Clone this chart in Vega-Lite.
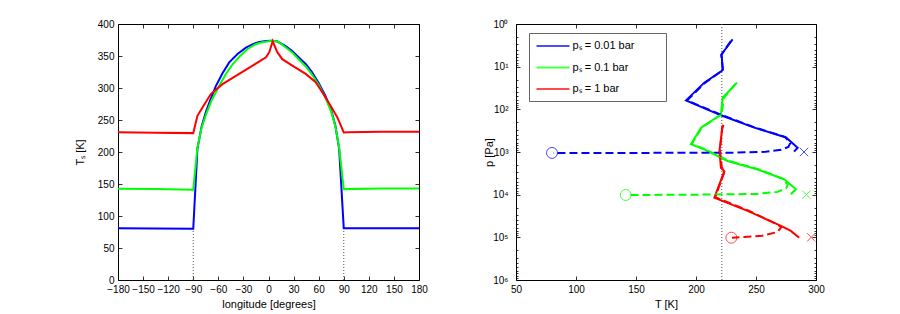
{
  "$schema": "https://vega.github.io/schema/vega-lite/v6.json",
  "background": "white",
  "padding": {"left": 73, "top": 18, "right": 5, "bottom": 3},
  "spacing": 97,
  "bounds": "flush",
  "resolve": {"scale": {"color": "independent"}, "legend": {"color": "independent"}},
  "datasets": {
    "surface": [
      {"s": "pₛ = 0.01 bar", "lon": -180, "T": 81},
      {"s": "pₛ = 0.01 bar", "lon": -135, "T": 80.5},
      {"s": "pₛ = 0.01 bar", "lon": -90, "T": 80},
      {"s": "pₛ = 0.01 bar", "lon": -85, "T": 205},
      {"s": "pₛ = 0.01 bar", "lon": -80, "T": 240},
      {"s": "pₛ = 0.01 bar", "lon": -75, "T": 262},
      {"s": "pₛ = 0.01 bar", "lon": -70, "T": 280},
      {"s": "pₛ = 0.01 bar", "lon": -63, "T": 303},
      {"s": "pₛ = 0.01 bar", "lon": -55, "T": 323},
      {"s": "pₛ = 0.01 bar", "lon": -47, "T": 340},
      {"s": "pₛ = 0.01 bar", "lon": -37, "T": 353},
      {"s": "pₛ = 0.01 bar", "lon": -27, "T": 363},
      {"s": "pₛ = 0.01 bar", "lon": -18, "T": 369},
      {"s": "pₛ = 0.01 bar", "lon": -11, "T": 372},
      {"s": "pₛ = 0.01 bar", "lon": -3, "T": 373.5},
      {"s": "pₛ = 0.01 bar", "lon": 3, "T": 374},
      {"s": "pₛ = 0.01 bar", "lon": 10, "T": 373},
      {"s": "pₛ = 0.01 bar", "lon": 20, "T": 366},
      {"s": "pₛ = 0.01 bar", "lon": 28, "T": 358},
      {"s": "pₛ = 0.01 bar", "lon": 36, "T": 348},
      {"s": "pₛ = 0.01 bar", "lon": 45, "T": 337},
      {"s": "pₛ = 0.01 bar", "lon": 52, "T": 325},
      {"s": "pₛ = 0.01 bar", "lon": 60, "T": 308},
      {"s": "pₛ = 0.01 bar", "lon": 68, "T": 288},
      {"s": "pₛ = 0.01 bar", "lon": 75, "T": 265},
      {"s": "pₛ = 0.01 bar", "lon": 80, "T": 241},
      {"s": "pₛ = 0.01 bar", "lon": 84.5, "T": 205},
      {"s": "pₛ = 0.01 bar", "lon": 90, "T": 81},
      {"s": "pₛ = 0.01 bar", "lon": 135, "T": 81},
      {"s": "pₛ = 0.01 bar", "lon": 180, "T": 81},
      {"s": "pₛ = 0.1 bar", "lon": -180, "T": 142.5},
      {"s": "pₛ = 0.1 bar", "lon": -135, "T": 142},
      {"s": "pₛ = 0.1 bar", "lon": -90, "T": 141},
      {"s": "pₛ = 0.1 bar", "lon": -85, "T": 207},
      {"s": "pₛ = 0.1 bar", "lon": -80, "T": 238},
      {"s": "pₛ = 0.1 bar", "lon": -74, "T": 261},
      {"s": "pₛ = 0.1 bar", "lon": -68, "T": 281},
      {"s": "pₛ = 0.1 bar", "lon": -59, "T": 303},
      {"s": "pₛ = 0.1 bar", "lon": -51, "T": 322},
      {"s": "pₛ = 0.1 bar", "lon": -43, "T": 337},
      {"s": "pₛ = 0.1 bar", "lon": -34, "T": 350},
      {"s": "pₛ = 0.1 bar", "lon": -25, "T": 361},
      {"s": "pₛ = 0.1 bar", "lon": -16, "T": 368},
      {"s": "pₛ = 0.1 bar", "lon": -9, "T": 371},
      {"s": "pₛ = 0.1 bar", "lon": 0, "T": 373},
      {"s": "pₛ = 0.1 bar", "lon": 5, "T": 374},
      {"s": "pₛ = 0.1 bar", "lon": 12, "T": 372},
      {"s": "pₛ = 0.1 bar", "lon": 20, "T": 364},
      {"s": "pₛ = 0.1 bar", "lon": 28, "T": 356},
      {"s": "pₛ = 0.1 bar", "lon": 36, "T": 345},
      {"s": "pₛ = 0.1 bar", "lon": 45, "T": 333},
      {"s": "pₛ = 0.1 bar", "lon": 52, "T": 321},
      {"s": "pₛ = 0.1 bar", "lon": 60, "T": 305},
      {"s": "pₛ = 0.1 bar", "lon": 68, "T": 285},
      {"s": "pₛ = 0.1 bar", "lon": 75, "T": 263},
      {"s": "pₛ = 0.1 bar", "lon": 80, "T": 240},
      {"s": "pₛ = 0.1 bar", "lon": 84.5, "T": 207},
      {"s": "pₛ = 0.1 bar", "lon": 90, "T": 142},
      {"s": "pₛ = 0.1 bar", "lon": 135, "T": 143},
      {"s": "pₛ = 0.1 bar", "lon": 180, "T": 143},
      {"s": "pₛ = 1 bar", "lon": -180, "T": 231},
      {"s": "pₛ = 1 bar", "lon": -135, "T": 230},
      {"s": "pₛ = 1 bar", "lon": -90, "T": 229.5},
      {"s": "pₛ = 1 bar", "lon": -85, "T": 256.6},
      {"s": "pₛ = 1 bar", "lon": -79, "T": 269.6},
      {"s": "pₛ = 1 bar", "lon": -69, "T": 290.5},
      {"s": "pₛ = 1 bar", "lon": -55, "T": 306},
      {"s": "pₛ = 1 bar", "lon": -39, "T": 319},
      {"s": "pₛ = 1 bar", "lon": -19, "T": 335},
      {"s": "pₛ = 1 bar", "lon": -3, "T": 348},
      {"s": "pₛ = 1 bar", "lon": 1, "T": 356},
      {"s": "pₛ = 1 bar", "lon": 5, "T": 373},
      {"s": "pₛ = 1 bar", "lon": 10.5, "T": 356},
      {"s": "pₛ = 1 bar", "lon": 16.5, "T": 345},
      {"s": "pₛ = 1 bar", "lon": 28.5, "T": 335},
      {"s": "pₛ = 1 bar", "lon": 44.5, "T": 322},
      {"s": "pₛ = 1 bar", "lon": 56.5, "T": 309},
      {"s": "pₛ = 1 bar", "lon": 64.5, "T": 293},
      {"s": "pₛ = 1 bar", "lon": 74.4, "T": 272},
      {"s": "pₛ = 1 bar", "lon": 82.4, "T": 254},
      {"s": "pₛ = 1 bar", "lon": 90, "T": 230.5},
      {"s": "pₛ = 1 bar", "lon": 95, "T": 231},
      {"s": "pₛ = 1 bar", "lon": 135, "T": 231.5},
      {"s": "pₛ = 1 bar", "lon": 180, "T": 231.5}
    ],
    "nightEdges": [
      {"lon": -90, "T0": 0, "T1": 80},
      {"lon": 90, "T0": 0, "T1": 81}
    ],
    "solid": [
      {"s": "pₛ = 0.01 bar", "i": 1, "T": 230.5, "p": 2.3},
      {"s": "pₛ = 0.01 bar", "i": 2, "T": 221.4, "p": 5.1},
      {"s": "pₛ = 0.01 bar", "i": 3, "T": 222.2, "p": 12.2},
      {"s": "pₛ = 0.01 bar", "i": 4, "T": 206.9, "p": 23.7},
      {"s": "pₛ = 0.01 bar", "i": 5, "T": 191.7, "p": 61.7},
      {"s": "pₛ = 0.01 bar", "i": 6, "T": 220.8, "p": 138},
      {"s": "pₛ = 0.01 bar", "i": 7, "T": 248.6, "p": 269},
      {"s": "pₛ = 0.01 bar", "i": 8, "T": 275.0, "p": 457},
      {"s": "pₛ = 0.01 bar", "i": 9, "T": 284.7, "p": 794},
      {"s": "pₛ = 0.01 bar", "i": 10, "T": 281.7, "p": 977},
      {"s": "pₛ = 0.1 bar", "i": 1, "T": 234.2, "p": 23.7},
      {"s": "pₛ = 0.1 bar", "i": 2, "T": 222.2, "p": 53.7},
      {"s": "pₛ = 0.1 bar", "i": 3, "T": 220.8, "p": 132},
      {"s": "pₛ = 0.1 bar", "i": 4, "T": 204.2, "p": 269},
      {"s": "pₛ = 0.1 bar", "i": 5, "T": 195.8, "p": 661},
      {"s": "pₛ = 0.1 bar", "i": 6, "T": 206.9, "p": 871},
      {"s": "pₛ = 0.1 bar", "i": 7, "T": 226.4, "p": 1622},
      {"s": "pₛ = 0.1 bar", "i": 8, "T": 251.4, "p": 2570},
      {"s": "pₛ = 0.1 bar", "i": 9, "T": 273.6, "p": 4365},
      {"s": "pₛ = 0.1 bar", "i": 10, "T": 283.3, "p": 7499},
      {"s": "pₛ = 0.1 bar", "i": 11, "T": 279.0, "p": 9772},
      {"s": "pₛ = 1 bar", "i": 1, "T": 222.8, "p": 229},
      {"s": "pₛ = 1 bar", "i": 2, "T": 221.7, "p": 300},
      {"s": "pₛ = 1 bar", "i": 3, "T": 219.5, "p": 955},
      {"s": "pₛ = 1 bar", "i": 4, "T": 220.8, "p": 2344},
      {"s": "pₛ = 1 bar", "i": 5, "T": 223.6, "p": 2818},
      {"s": "pₛ = 1 bar", "i": 6, "T": 215.3, "p": 11749},
      {"s": "pₛ = 1 bar", "i": 7, "T": 243.0, "p": 23988},
      {"s": "pₛ = 1 bar", "i": 8, "T": 270.8, "p": 53703},
      {"s": "pₛ = 1 bar", "i": 9, "T": 279.0, "p": 70795},
      {"s": "pₛ = 1 bar", "i": 10, "T": 286.0, "p": 102329}
    ],
    "dashed": [
      {"s": "pₛ = 0.01 bar", "i": 1, "T": 229, "p": 2.5},
      {"s": "pₛ = 0.01 bar", "i": 2, "T": 221, "p": 5.3},
      {"s": "pₛ = 0.01 bar", "i": 3, "T": 222.5, "p": 12},
      {"s": "pₛ = 0.01 bar", "i": 4, "T": 207.5, "p": 24},
      {"s": "pₛ = 0.01 bar", "i": 5, "T": 192.5, "p": 62},
      {"s": "pₛ = 0.01 bar", "i": 6, "T": 221.5, "p": 136},
      {"s": "pₛ = 0.01 bar", "i": 7, "T": 249, "p": 266},
      {"s": "pₛ = 0.01 bar", "i": 8, "T": 274, "p": 440},
      {"s": "pₛ = 0.01 bar", "i": 9, "T": 278.5, "p": 620},
      {"s": "pₛ = 0.01 bar", "i": 10, "T": 277, "p": 760},
      {"s": "pₛ = 0.01 bar", "i": 11, "T": 271, "p": 890},
      {"s": "pₛ = 0.01 bar", "i": 12, "T": 258, "p": 990},
      {"s": "pₛ = 0.01 bar", "i": 13, "T": 230, "p": 1040},
      {"s": "pₛ = 0.01 bar", "i": 14, "T": 150, "p": 1050},
      {"s": "pₛ = 0.01 bar", "i": 15, "T": 81, "p": 1050},
      {"s": "pₛ = 0.1 bar", "i": 1, "T": 233, "p": 25},
      {"s": "pₛ = 0.1 bar", "i": 2, "T": 223, "p": 55},
      {"s": "pₛ = 0.1 bar", "i": 3, "T": 221.5, "p": 130},
      {"s": "pₛ = 0.1 bar", "i": 4, "T": 205, "p": 265},
      {"s": "pₛ = 0.1 bar", "i": 5, "T": 196.5, "p": 650},
      {"s": "pₛ = 0.1 bar", "i": 6, "T": 207.5, "p": 860},
      {"s": "pₛ = 0.1 bar", "i": 7, "T": 227, "p": 1600},
      {"s": "pₛ = 0.1 bar", "i": 8, "T": 252, "p": 2540},
      {"s": "pₛ = 0.1 bar", "i": 9, "T": 272, "p": 4200},
      {"s": "pₛ = 0.1 bar", "i": 10, "T": 276.5, "p": 5800},
      {"s": "pₛ = 0.1 bar", "i": 11, "T": 275, "p": 7100},
      {"s": "pₛ = 0.1 bar", "i": 12, "T": 268, "p": 8600},
      {"s": "pₛ = 0.1 bar", "i": 13, "T": 250, "p": 9600},
      {"s": "pₛ = 0.1 bar", "i": 14, "T": 200, "p": 10000},
      {"s": "pₛ = 0.1 bar", "i": 15, "T": 142, "p": 10200},
      {"s": "pₛ = 1 bar", "i": 1, "T": 222, "p": 240},
      {"s": "pₛ = 1 bar", "i": 2, "T": 220, "p": 950},
      {"s": "pₛ = 1 bar", "i": 3, "T": 221.5, "p": 2300},
      {"s": "pₛ = 1 bar", "i": 4, "T": 224, "p": 2800},
      {"s": "pₛ = 1 bar", "i": 5, "T": 216, "p": 11500},
      {"s": "pₛ = 1 bar", "i": 6, "T": 243.5, "p": 23500},
      {"s": "pₛ = 1 bar", "i": 7, "T": 268, "p": 50000},
      {"s": "pₛ = 1 bar", "i": 8, "T": 271, "p": 58000},
      {"s": "pₛ = 1 bar", "i": 9, "T": 268, "p": 75000},
      {"s": "pₛ = 1 bar", "i": 10, "T": 255, "p": 92000},
      {"s": "pₛ = 1 bar", "i": 11, "T": 240, "p": 98000},
      {"s": "pₛ = 1 bar", "i": 12, "T": 230, "p": 102000}
    ],
    "starts": [
      {"s": "pₛ = 0.01 bar", "T": 80, "p": 1050},
      {"s": "pₛ = 0.1 bar", "T": 141.5, "p": 10200},
      {"s": "pₛ = 1 bar", "T": 229.5, "p": 102000}
    ],
    "ends": [
      {"s": "pₛ = 0.01 bar", "T": 290, "p": 1000},
      {"s": "pₛ = 0.1 bar", "T": 292, "p": 10000},
      {"s": "pₛ = 1 bar", "T": 296, "p": 100000}
    ],
    "isotherm": [{"T": 221.5}]
  },
  "hconcat": [
    {
      "width": 301,
      "height": 256,
      "layer": [
        {
          "data": {"name": "nightEdges"},
          "mark": {"type": "rule", "color": "#555555", "strokeDash": [1, 2], "strokeWidth": 1},
          "encoding": {
            "x": {"field": "lon", "type": "quantitative", "scale": {"domain": [-180, 180], "nice": false, "zero": false},
                  "axis": {"orient": "top", "labels": false, "title": null, "values": [-180, -150, -120, -90, -60, -30, 0, 30, 60, 90, 120, 150, 180]}},
            "y": {"field": "T0", "type": "quantitative", "scale": {"domain": [0, 400], "nice": false},
                  "axis": {"orient": "right", "labels": false, "title": null, "values": [0, 50, 100, 150, 200, 250, 300, 350, 400]}},
            "y2": {"field": "T1"}
          }
        },
        {
          "data": {"name": "surface"},
          "mark": {"type": "line", "strokeWidth": 2},
          "encoding": {
            "x": {"field": "lon", "type": "quantitative",
                  "axis": {"orient": "bottom", "title": "longitude [degrees]", "titlePadding": 4, "values": [-180, -150, -120, -90, -60, -30, 0, 30, 60, 90, 120, 150, 180]}},
            "y": {"field": "T", "type": "quantitative",
                  "axis": {"orient": "left", "title": "Tₛ [K]", "titlePadding": 12, "values": [0, 50, 100, 150, 200, 250, 300, 350, 400]}},
            "color": {"field": "s", "type": "nominal",
                      "scale": {"domain": ["pₛ = 0.01 bar", "pₛ = 0.1 bar", "pₛ = 1 bar"], "range": ["#0000ff", "#00ff00", "#ff0000"]},
                      "legend": null}
          }
        }
      ]
    },
    {
      "width": 300,
      "height": 256,
      "layer": [
        {
          "data": {"name": "isotherm"},
          "mark": {"type": "rule", "color": "#555555", "strokeDash": [1, 2], "strokeWidth": 1},
          "encoding": {
            "x": {"field": "T", "type": "quantitative", "scale": {"domain": [50, 300], "nice": false, "zero": false},
                  "axis": {"orient": "top", "labels": false, "title": null, "values": [50, 100, 150, 200, 250, 300]}}
          }
        },
        {
          "data": {"name": "solid"},
          "mark": {"type": "line", "strokeWidth": 2},
          "encoding": {
            "x": {"field": "T", "type": "quantitative",
                  "axis": {"orient": "bottom", "title": "T [K]", "titlePadding": 4, "values": [50, 100, 150, 200, 250, 300]}},
            "y": {"field": "p", "type": "quantitative",
                  "scale": {"type": "log", "domain": [1, 1000000], "reverse": true, "nice": false},
                  "axis": {"orient": "left", "title": "p [Pa]", "titlePadding": -2, "labelPadding": 12,
                           "values": [1,2,3,4,5,6,7,8,9,10,20,30,40,50,60,70,80,90,100,200,300,400,500,600,700,800,900,1000,2000,3000,4000,5000,6000,7000,8000,9000,10000,20000,30000,40000,50000,60000,70000,80000,90000,100000,200000,300000,400000,500000,600000,700000,800000,900000,1000000],
                           "tickSize": {"condition": {"test": "abs(log(datum.value)/LN10 - round(log(datum.value)/LN10)) < 0.01", "value": -4}, "value": -2},
                           "labelExpr": "abs(log(datum.value)/LN10 - round(log(datum.value)/LN10)) < 0.01 ? '10' + ['⁰','¹','²','³','⁴','⁵','⁶'][round(log(datum.value)/LN10)] : ''"}},
            "order": {"field": "i", "type": "quantitative"},
            "color": {"field": "s", "type": "nominal",
                      "scale": {"domain": ["pₛ = 0.01 bar", "pₛ = 0.1 bar", "pₛ = 1 bar"], "range": ["#0000ff", "#00ff00", "#ff0000"]},
                      "legend": {"title": null, "orient": "none", "legendX": 13, "legendY": 9,
                                 "strokeColor": "#666666", "fillColor": "white", "padding": 6.5,
                                 "symbolType": "M-3,0L3,0", "symbolSize": 121, "symbolStrokeWidth": 2, "symbolOffset": 11,
                                 "labelFont": "Liberation Sans", "labelFontSize": 11, "labelColor": "black", "labelOffset": 13,
                                 "rowPadding": 9.5,
                                 "labelExpr": "datum.label + '\u2800\u2800\u2800'"}}
          }
        },
        {
          "data": {"name": "dashed"},
          "mark": {"type": "line", "strokeWidth": 2, "strokeDash": [8, 4]},
          "encoding": {
            "x": {"field": "T", "type": "quantitative", "axis": null},
            "y": {"field": "p", "type": "quantitative",
                  "axis": {"orient": "right", "labels": false, "title": null,
                           "values": [1,2,3,4,5,6,7,8,9,10,20,30,40,50,60,70,80,90,100,200,300,400,500,600,700,800,900,1000,2000,3000,4000,5000,6000,7000,8000,9000,10000,20000,30000,40000,50000,60000,70000,80000,90000,100000,200000,300000,400000,500000,600000,700000,800000,900000,1000000],
                           "tickSize": {"condition": {"test": "abs(log(datum.value)/LN10 - round(log(datum.value)/LN10)) < 0.01", "value": -4}, "value": -2}}},
            "order": {"field": "i", "type": "quantitative"},
            "color": {"field": "s", "type": "nominal"}
          }
        },
        {
          "data": {"name": "starts"},
          "mark": {"type": "point", "shape": "circle", "filled": false, "size": 120, "strokeWidth": 1},
          "encoding": {
            "x": {"field": "T", "type": "quantitative", "axis": null},
            "y": {"field": "p", "type": "quantitative", "axis": null},
            "color": {"field": "s", "type": "nominal"}
          }
        },
        {
          "data": {"name": "ends"},
          "mark": {"type": "point", "shape": "M-1,-1L1,1M-1,1L1,-1", "filled": false, "size": 70, "strokeWidth": 1},
          "encoding": {
            "x": {"field": "T", "type": "quantitative", "axis": null},
            "y": {"field": "p", "type": "quantitative", "axis": null},
            "color": {"field": "s", "type": "nominal"}
          }
        }
      ]
    }
  ],
  "config": {
    "font": "Liberation Sans",
    "view": {"stroke": "black", "strokeWidth": 1},
    "axis": {
      "grid": false, "domain": false,
      "tickColor": "black", "tickSize": -4, "tickWidth": 0.8,
      "labelFont": "Liberation Sans", "labelFontSize": 10, "labelColor": "black", "labelPadding": 8,
      "labelOverlap": false, "labelFlush": false,
      "titleFont": "Liberation Sans", "titleFontSize": 11, "titleFontWeight": "normal", "titleColor": "black"
    }
  }
}
